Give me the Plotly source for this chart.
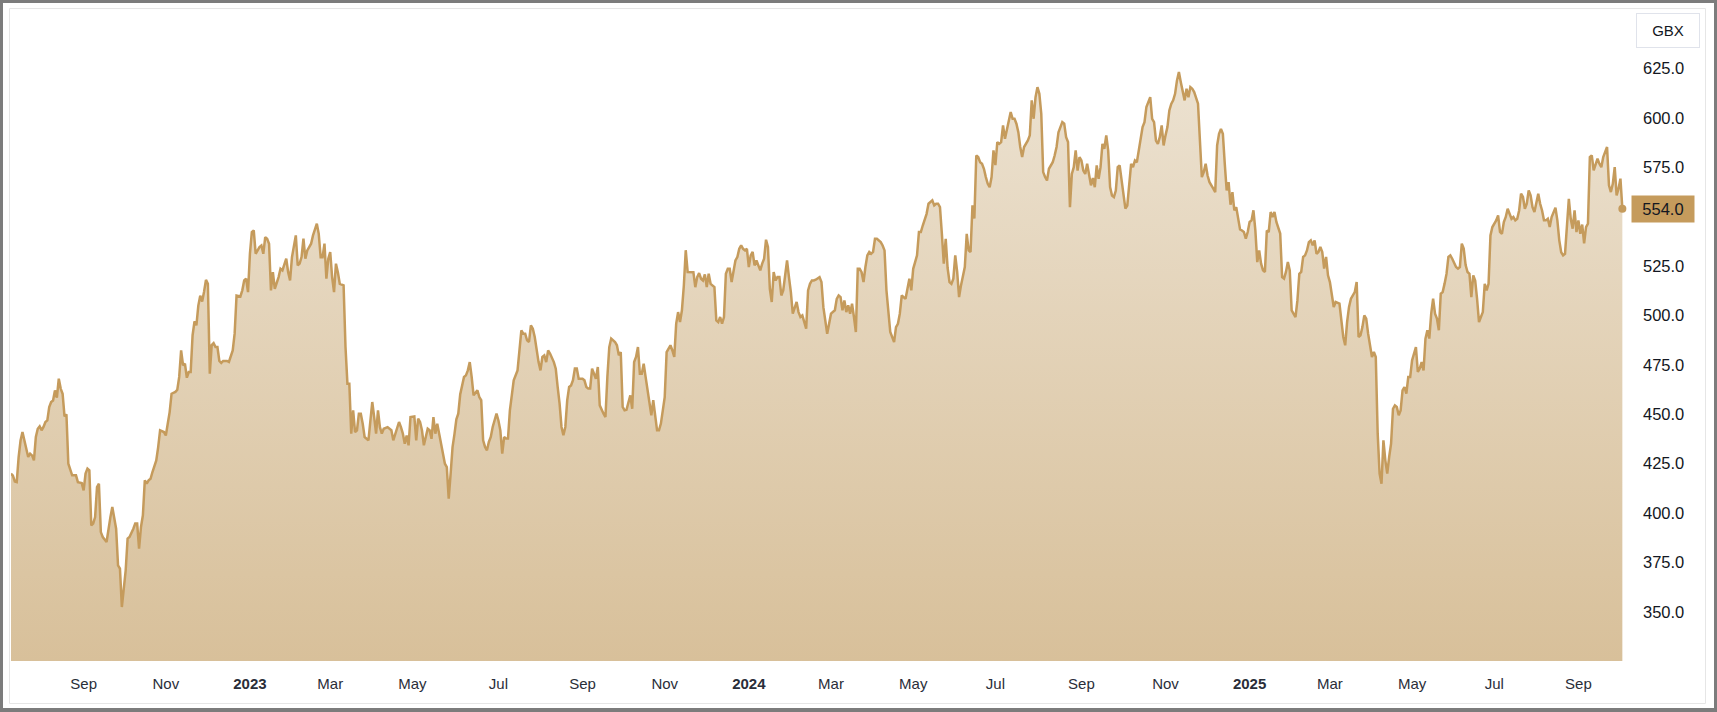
import pandas as pd
import plotly.graph_objects as go

# ---------------- data ----------------
START = "2022-07-11"          # first trading session shown
CURRENCY = "GBX"

# trading-session number (weekdays counted from START) of each traced price point
session = [
    0,1,2,3,4,5,6,7,8,9,10,11,12,13,14,15,16,17,18,19,
    20,21,22,23,24,25,26,27,28,29,30,31,32,34,35,37,38,39,40,41,
    42,43,44,45,46,47,48,50,51,52,53,54,55,56,57,58,59,60,61,62,
    64,65,66,67,68,69,70,71,72,73,74,76,77,78,80,81,82,83,84,86,
    87,88,89,90,91,92,93,94,95,96,97,98,99,100,101,102,103,104,105,106,
    107,108,109,110,111,112,113,114,
    116,117,118,120,121,122,123,124,125,126,127,128,130,131,132,133,134,135,136,137,
    138,140,141,142,144,145,146,147,148,149,150,151,152,153,154,155,156,157,158,160,
    161,162,163,164,165,166,167,168,169,170,171,172,174,175,176,177,178,179,180,181,
    182,183,184,185,187,188,189,190,191,192,193,194,195,197,198,199,200,201,203,204,
    205,206,207,208,209,211,212,213,214,215,216,218,219,220,221,222,223,224,226,227,
    228,229,230,231,232,233,234,235,237,238,239,240,241,242,244,245,246,247,248,249,
    250,251,252,254,255,256,257,258,259,260,261,262,263,265,266,267,268,269,270,271,
    272,273,274,275,276,277,278,279,280,281,282,284,285,286,287,288,289,290,291,292,
    293,294,295,296,297,299,300,301,302,303,304,305,306,307,308,310,311,312,313,314,
    316,317,318,319,320,321,322,324,325,326,327,328,329,330,331,332,333,334,335,336,
    337,338,339,340,341,342,343,345,346,347,348,349,350,351,352,353,354,355,
    357,358,359,360,361,362,363,364,365,366,367,368,369,370,371,372,373,374,375,376,
    377,379,380,381,382,383,384,385,386,387,388,389,390,391,392,393,394,395,396,397,
    398,399,400,401,402,403,404,405,406,407,408,409,410,411,412,413,414,415,416,417,
    418,419,420,421,423,424,425,426,427,428,429,431,432,433,434,435,436,437,438,439,
    440,441,442,443,444,445,446,447,448,449,450,451,452,453,455,456,457,458,459,460,
    462,463,464,465,466,467,468,469,470,471,472,473,474,475,476,477,479,480,482,483,
    484,485,486,487,488,489,490,491,492,493,494,495,496,497,498,499,500,501,502,503,
    504,505,
    506,507,508,509,510,511,512,513,514,515,516,517,518,519,520,521,522,523,524,525,
    526,527,528,529,530,531,532,533,534,535,536,537,538,539,540,541,542,543,544,545,
    546,547,548,549,550,551,552,553,554,555,556,557,558,559,560,561,562,563,564,565,
    566,567,568,569,570,571,572,573,574,575,576,577,578,579,580,581,582,583,584,585,
    586,587,588,589,590,591,592,593,594,596,597,598,599,600,601,602,603,604,605,606,
    607,608,609,610,611,612,613,614,615,616,617,618,619,620,621,622,623,624,625,626,
    627,629,630,631,632,633,634,635,636,637,638,639,640,641,642,643,644,645,646,647,
    648,649,650,651,652,653,654,655,656,657,658,659,660,661,662,664,665,666,667,668,
    669,670,672,673,674,675,676,677,678,679,680,681,682,683,684,685,686,687,688,689,
    690,691,692,693,695,697,698,699,700,701,702,703,704,705,706,707,708,709,710,711,
    712,713,714,715,716,717,718,719,720,721,722,723,724,725,726,727,728,729,730,731,
    732,733,734,735,736,737,738,739,740,741,742,743,744,745,746,747,748,749,750,751,
    752,753,754,756,757,758,759,760,761,762,763,764,765,766,767,768,769,770,771,772,
    773,774,775,776,777,778,779,780,781,782,783,785,786,787,788,789,790,791,792,793,
    794,795,796,797,798,799,800,801,802,803,804,805,806,807,808,809,810,811,812,813,
    814,815,816,817,818,819,820,821,822,823,824,825,826,827,828,829,830,831,832,833,
    835,836,837,838,839,840,841,842,843,
]

# closing price (GBX) at each session above
price = [
    420.0,419.0,416.0,415.7,428.4,436.8,441.0,436.8,431.8,428.4,430.1,429.2,426.7,438.5,442.7,443.9,441.9,443.6,446.1,446.9,
    453.7,456.2,457.0,462.1,458.4,468.0,463.0,460.4,449.0,450.0,425.0,421.6,419.1,419.1,415.7,415.2,411.5,420.0,422.5,421.6,
    393.8,394.7,398.0,413.2,414.9,390.4,387.9,385.4,393.0,398.0,403.1,398.0,392.1,373.6,371.9,352.5,362.6,371.1,387.1,387.9,
    392.1,394.7,394.7,382.0,393.0,398.9,416.6,414.9,416.6,417.4,420.8,426.7,433.4,441.9,441.0,439.3,445.2,451.1,460.4,461.3,
    462.4,468.9,482.3,474.8,475.6,468.5,471.4,471.4,490.0,497.0,495.0,505.0,510.0,507.0,512.0,518.0,516.0,470.5,485.0,486.0,
    484.0,484.0,477.0,476.0,477.0,477.0,477.0,476.5,
    482.3,490.8,510.1,509.6,512.7,517.7,518.6,511.8,531.2,542.2,543.0,531.2,534.6,535.4,531.2,539.6,538.8,536.3,512.7,521.9,
    513.5,519.4,523.6,522.8,528.7,521.9,517.7,529.5,536.3,540.5,525.3,526.2,529.5,538.8,528.7,532.9,534.6,536.3,540.5,546.4,
    541.3,529.5,529.5,536.3,518.6,528.7,532.1,519.4,511.8,526.2,521.9,516.0,515.2,484.0,465.5,465.5,440.2,452.0,441.0,441.9,
    450.3,450.3,445.2,438.5,436.8,445.2,456.2,448.6,440.2,452.0,443.5,440.2,442.7,443.5,442.7,441.9,436.8,440.2,446.1,443.5,
    440.2,435.1,439.3,434.3,448.6,448.9,436.8,447.8,446.1,441.9,434.3,442.7,441.9,437.6,448.6,440.2,445.2,440.2,430.1,425.0,
    423.3,407.3,420.0,433.4,440.0,447.5,450.3,460.0,468.9,469.7,472.2,476.4,468.9,459.6,462.1,458.7,457.1,436.8,433.5,431.8,
    436.0,438.5,443.6,450.3,446.9,441.9,430.1,438.5,437.7,437.7,452.0,458.7,467.2,472.2,482.3,492.5,490.8,490.8,487.4,486.6,
    495.0,493.3,489.1,482.3,476.4,472.2,479.0,479.8,476.4,482.3,480.7,476.4,473.1,463.8,455.4,443.6,439.4,443.6,457.1,463.8,
    464.6,467.2,473.1,473.1,468.0,468.0,467.2,463.8,463.0,463.0,473.1,470.5,468.0,473.9,454.5,450.3,448.6,468.9,484.0,488.3,
    486.6,484.9,479.8,481.5,453.7,452.0,452.3,459.6,452.8,476.4,479.0,484.0,470.5,470.5,475.6,468.9,462.1,457.1,449.5,457.1,
    450.3,441.9,441.9,445.3,452.0,458.7,481.5,484.9,482.3,479.0,495.8,501.7,496.7,502.6,515.0,533.0,522.0,521.9,
    521.9,514.3,519.4,521.4,518.6,517.7,520.8,514.3,521.1,516.0,515.2,514.3,497.5,496.6,499.2,495.8,499.2,521.1,523.6,523.6,
    516.9,527.8,529.5,533.7,535.4,533.7,532.9,533.7,524.5,530.4,532.1,525.3,527.8,525.3,522.8,526.2,528.7,538.3,534.6,513.5,
    506.8,521.9,517.7,519.4,519.4,510.1,512.7,520.2,527.8,519.4,511.8,500.9,504.2,506.8,501.7,499.2,500.0,496.6,493.3,512.7,
    516.0,517.7,517.7,518.1,519.4,516.9,504.2,497.5,490.7,495.8,500.9,502.6,508.4,510.1,509.3,502.6,507.6,501.7,505.1,500.9,
    505.9,499.2,491.6,523.6,523.6,521.9,516.9,524.5,530.4,532.1,531.2,532.1,538.8,538.8,537.1,535.4,532.9,512.7,500.0,491.6,
    486.5,494.1,495.8,500.9,510.1,509.3,508.4,513.5,518.6,512.7,523.6,527.0,530.4,542.2,542.2,545.5,551.4,556.5,558.2,555.7,
    556.5,556.5,554.8,541.3,526.2,538.8,524.0,516.9,516.0,518.6,530.4,522.0,509.3,515.2,519.4,524.5,541.3,532.9,532.1,555.7,
    549.0,580.9,
    580.1,577.5,576.7,574.2,570.0,566.6,564.9,570.0,583.5,576.0,587.7,586.8,587.7,596.1,589.4,593.6,597.8,602.9,599.5,599.5,
    597.0,592.7,585.2,580.1,585.2,586.8,588.5,591.1,608.8,599.5,610.4,615.5,612.1,602.0,572.5,570.0,568.3,574.2,575.9,577.5,
    580.9,585.2,592.7,595.3,597.8,597.0,590.2,587.7,554.8,571.6,575.0,583.5,573.3,580.1,578.4,573.3,571.6,576.7,571.6,565.8,
    569.5,564.9,575.9,569.1,575.0,586.8,584.3,591.1,583.5,564.9,560.7,559.9,563.2,575.0,575.9,568.3,561.5,554.0,555.6,566.6,
    576.7,575.0,578.4,577.5,583.5,590.2,595.3,597.8,605.4,610.4,599.5,597.8,588.5,586.8,590.2,596.1,586.0,591.1,595.3,603.7,
    607.0,608.8,612.1,618.9,623.1,618.0,613.8,608.8,614.7,610.4,615.5,614.7,613.0,610.0,607.1,588.5,570.0,572.5,576.7,570.8,
    567.4,564.1,562.4,586.0,591.9,594.4,591.9,576.7,563.2,567.4,556.0,562.4,553.1,554.8,548.5,543.5,543.0,542.2,538.8,542.2,
    547.3,548.1,553.2,543.0,527.0,532.9,526.2,522.8,522.0,543.0,542.2,552.3,549.8,552.3,547.3,541.4,519.4,518.6,522.0,527.0,
    522.8,502.6,499.2,507.6,521.1,522.0,529.6,530.4,532.9,537.1,538.0,535.5,538.0,531.2,532.1,534.6,532.1,523.7,529.6,520.3,
    516.9,511.0,504.3,506.8,506.0,489.1,484.9,496.7,504.3,508.5,510.2,511.8,516.9,489.1,489.9,494.1,500.0,498.4,490.8,484.0,
    479.0,481.5,479.0,440.2,420.0,414.9,436.8,426.7,420.0,428.4,435.1,452.8,454.5,453.7,449.5,452.0,462.1,463.8,460.4,468.9,
    468.9,477.3,481.5,484.0,471.4,473.1,476.4,472.2,488.3,492.5,488.3,500.9,508.5,500.9,498.4,492.5,511.0,511.8,516.1,521.0,
    529.6,530.4,528.7,524.5,523.7,524.5,536.3,533.8,525.5,522.0,521.1,509.3,520.3,517.7,508.4,496.6,499.2,501.7,516.0,512.7,
    516.0,540.5,544.7,546.4,548.1,550.6,542.2,541.3,547.2,549.8,554.0,548.9,549.8,548.1,548.9,553.1,561.6,559.9,554.0,556.5,
    563.2,560.7,554.8,552.3,557.3,561.6,556.5,553.1,548.1,548.1,548.9,544.7,549.8,552.3,554.5,548.1,538.0,532.0,530.4,531.2,
    545.0,559.0,548.9,543.9,553.1,542.2,548.1,541.3,546.0,536.5,544.7,546.4,580.1,581.0,573.4,577.0,579.3,576.7,575.0,580.1,
    585.2,565.8,562.4,566.6,575.0,560.7,564.1,569.2,554.0,
]

# x-axis ticks (first trading day of every second month) and their labels
tick_dates = ["2022-09-01", "2022-11-01", "2023-01-02", "2023-03-01", "2023-05-01",
              "2023-07-03", "2023-09-01", "2023-11-01", "2024-01-02", "2024-03-01",
              "2024-05-01", "2024-07-01", "2024-09-02", "2024-11-01", "2025-01-02",
              "2025-03-03", "2025-05-01", "2025-07-01", "2025-09-01"]
tick_text = ["Sep", "Nov", "<b>2023</b>", "Mar", "May", "Jul", "Sep", "Nov", "<b>2024</b>", "Mar",
             "May", "Jul", "Sep", "Nov", "<b>2025</b>", "Mar", "May", "Jul", "Sep"]
y_ticks = [350, 375, 400, 425, 450, 475, 500, 525, 575, 600, 625]

assert len(session) == len(price), (len(session), len(price))
assert all(b > a for a, b in zip(session, session[1:]))

# ---------------- styling ----------------
W, H = 1717, 712
PL, PR, PT, PB = 11, 1630, 12, 661          # plot-area edges in pixels
Y_RANGE = [325.2, 653.5]
X_END = "2025-10-08"
LINE = "#C59B5C"
TOP, BOTTOM = "#EEE5D6", "#D8C09A"
FONT = "Liberation Sans, Arial, sans-serif"
TXT = "#131722"


def px(x):
    return (x - PL) / (PR - PL)


def py(y):
    return (PB - y) / (PB - PT)


days = pd.bdate_range(START, periods=session[-1] + 1)
dates = days[session]

fig = go.Figure()
fig.add_trace(go.Scatter(
    x=dates, y=price, mode="lines",
    line=dict(color=LINE, width=2.5),
    fill="tozeroy",
    fillgradient=dict(type="vertical", colorscale=[[0, BOTTOM], [1, TOP]],
                      start=Y_RANGE[0], stop=Y_RANGE[1]),
    hoverinfo="skip", showlegend=False,
))
fig.add_trace(go.Scatter(
    x=[dates[-1]], y=[price[-1]], mode="markers",
    marker=dict(size=8, color=LINE), hoverinfo="skip", showlegend=False,
))

fig.update_layout(
    width=W, height=H,
    margin=dict(l=PL, r=W - PR, t=PT, b=H - PB, pad=0),
    paper_bgcolor="#7C7C7C",
    plot_bgcolor="rgba(0,0,0,0)",
    font=dict(family=FONT, color=TXT),
    showlegend=False,
    xaxis=dict(
        type="date", range=[START, X_END],
        rangebreaks=[dict(bounds=["sat", "mon"])],
        tickmode="array", tickvals=tick_dates, ticktext=tick_text,
        showgrid=False, zeroline=False, showline=False, ticks="",
        tickfont=dict(family=FONT, size=15, color="#2A2E39"),
        ticklabelstandoff=12,
        fixedrange=True,
    ),
    yaxis=dict(
        side="right", range=Y_RANGE,
        tickmode="array", tickvals=y_ticks, tickformat=".1f",
        showgrid=False, zeroline=False, showline=False, ticks="",
        tickfont=dict(family=FONT, size=16.5, color=TXT),
        ticklabelstandoff=12,
        fixedrange=True,
    ),
    shapes=[
        dict(type="rect", xref="paper", yref="paper",
             x0=px(3), x1=px(1714), y0=py(708), y1=py(3),
             fillcolor="white", line=dict(width=0), layer="below"),
        dict(type="rect", xref="paper", yref="paper",
             x0=px(9.5), x1=px(1705.5), y0=py(703.5), y1=py(8.5),
             fillcolor="rgba(0,0,0,0)", line=dict(color="#E6E6E6", width=1), layer="below"),
    ],
    annotations=[
        dict(text=CURRENCY, xref="paper", yref="paper", x=px(1668), y=py(30.5),
             xanchor="center", yanchor="middle", showarrow=False,
             font=dict(family=FONT, size=15, color=TXT),
             bgcolor="white", bordercolor="#E0E3EB", borderwidth=1, borderpad=4,
             width=54, height=25),
        dict(text=f"{price[-1]:.1f}", xref="paper", yref="y", x=px(1631), y=price[-1],
             xanchor="left", yanchor="middle", showarrow=False,
             font=dict(family=FONT, size=16.5, color=TXT),
             bgcolor=LINE, borderpad=3, width=56, height=20),
    ],
)

fig.write_html("out.html", config={"displayModeBar": False},
               post_script="document.body.style.margin='0';document.body.style.overflow='hidden';")
